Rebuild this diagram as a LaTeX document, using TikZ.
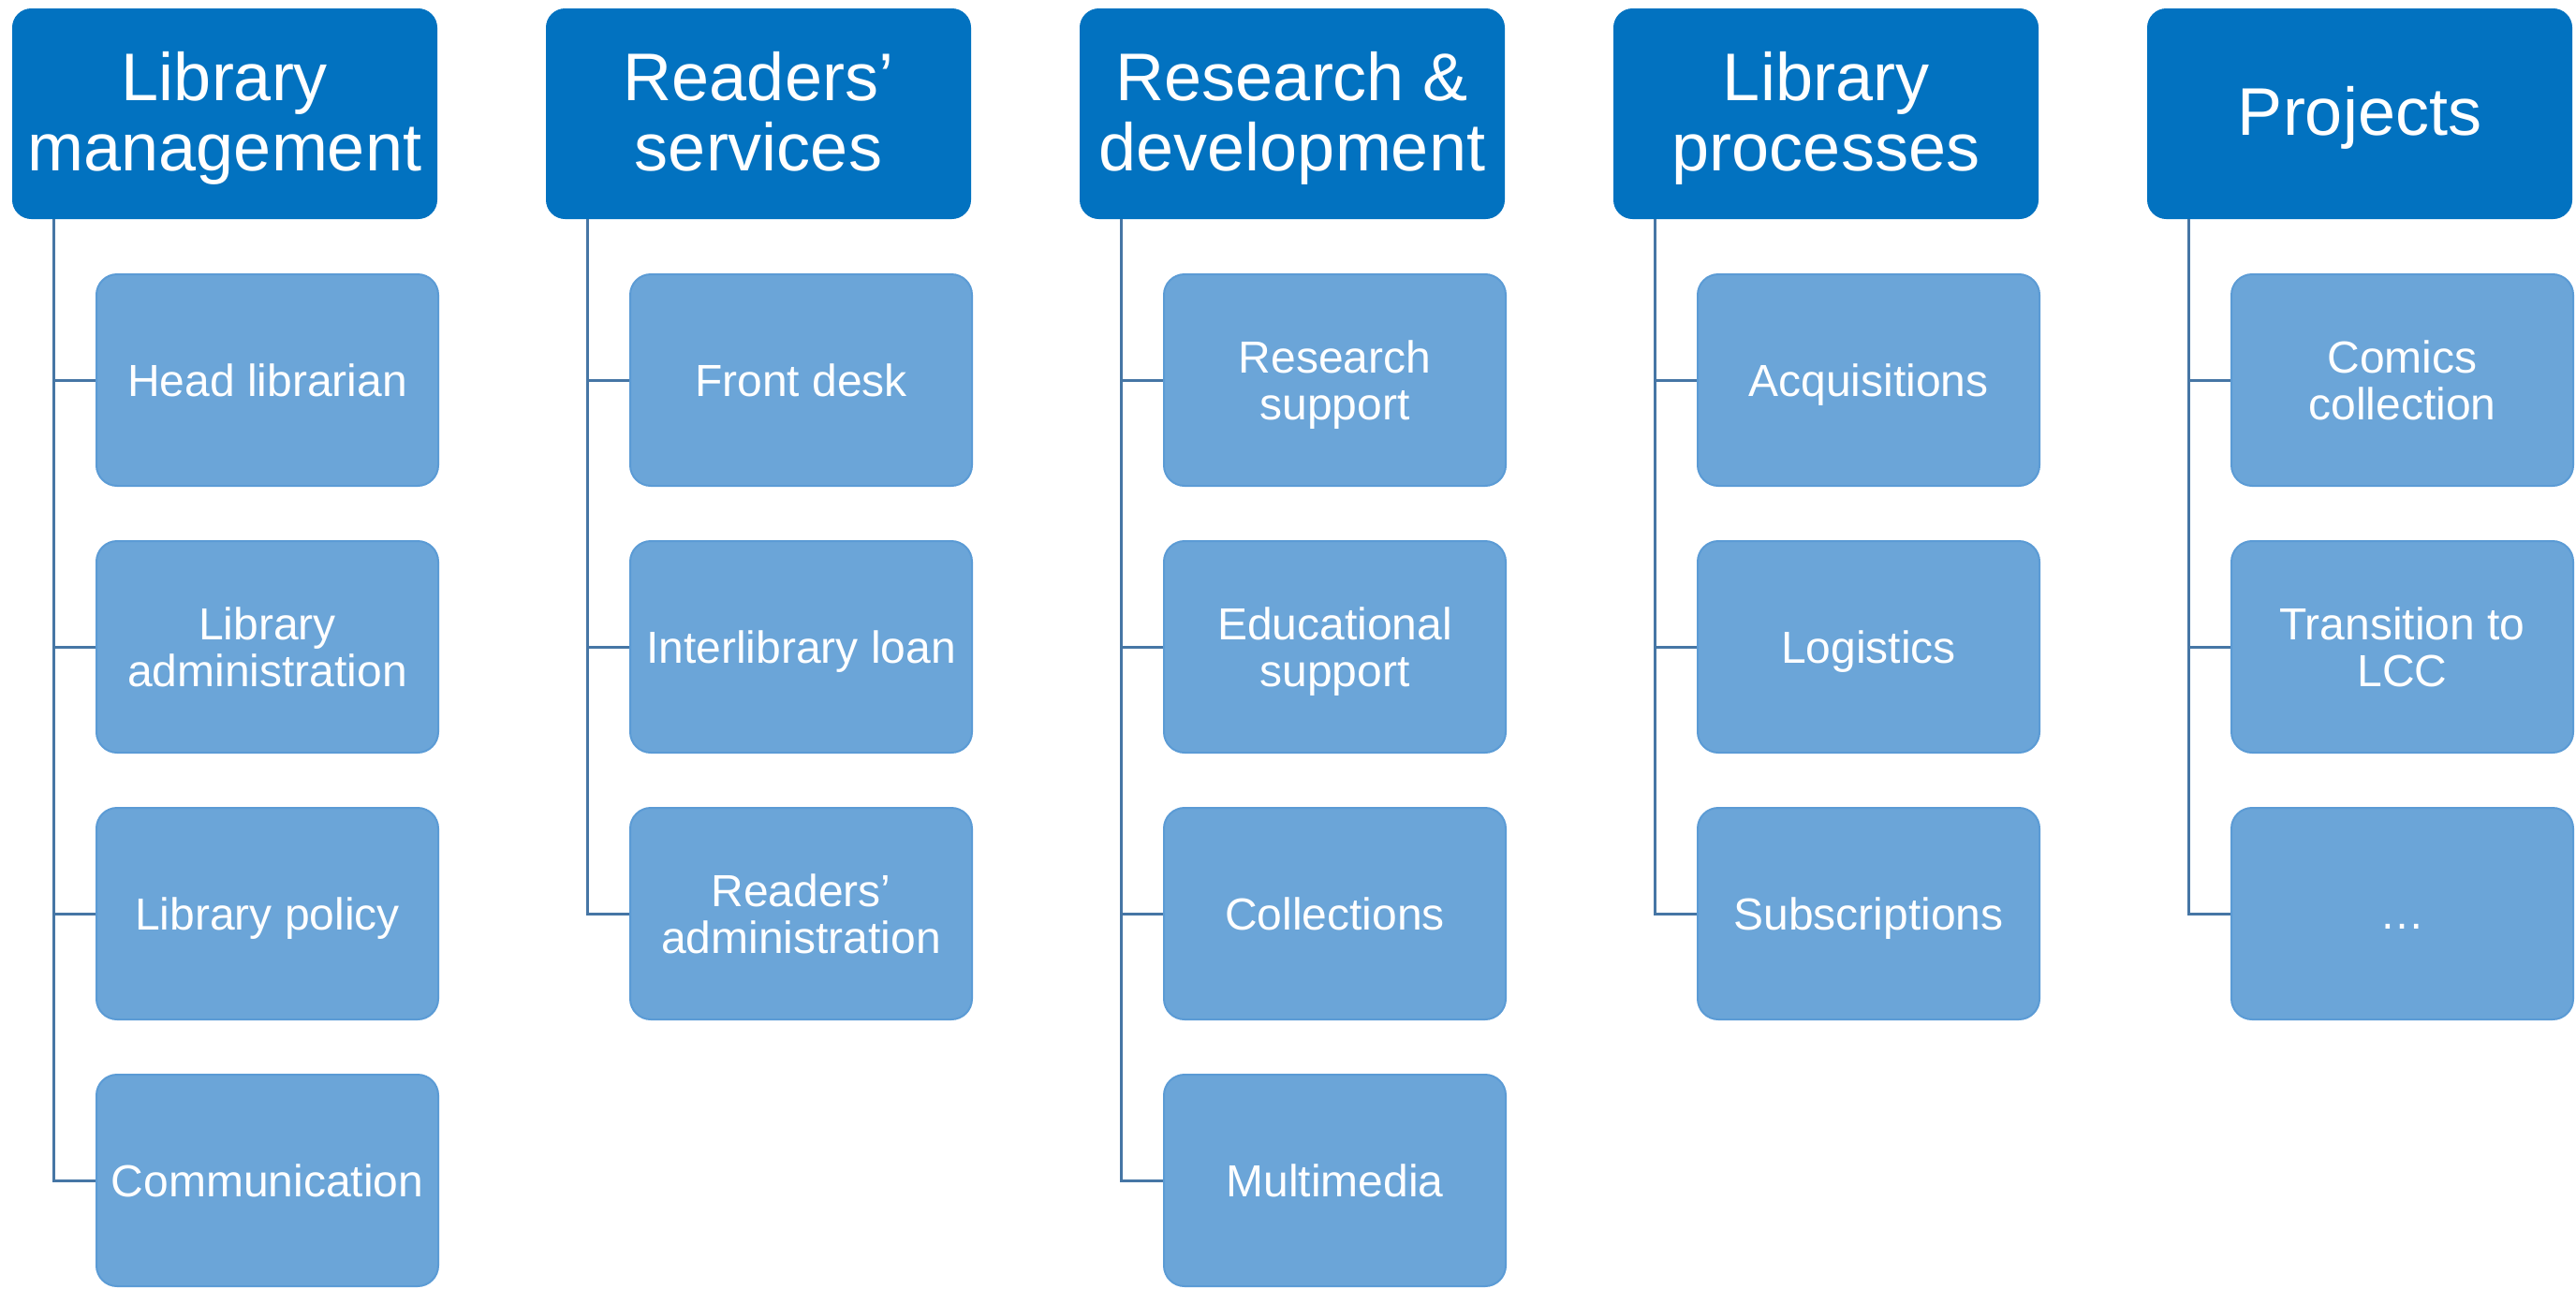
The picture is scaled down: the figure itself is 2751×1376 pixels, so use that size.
\documentclass[tikz,border=0pt]{standalone}
\usepackage{fontspec}
\setmainfont{Liberation Sans}
\definecolor{headblue}{RGB}{2,114,192}
\definecolor{childblue}{RGB}{107,165,216}
\definecolor{childedge}{RGB}{91,155,213}
\definecolor{connblue}{RGB}{70,118,165}
\tikzset{
  headbox/.style={draw=headblue, line width=1pt, fill=headblue, rounded corners=20pt,
    minimum width=453pt, minimum height=224pt, inner sep=0pt, align=center,
    text depth=6pt,
    text=white, font=\fontsize{72}{75}\selectfont},
  childbox/.style={draw=childedge, line width=2pt, fill=childblue, rounded corners=22pt,
    minimum width=365pt, minimum height=226pt, inner sep=0pt, align=center,
    text depth=0pt,
    text=white, font=\fontsize{48}{50}\selectfont},
  conn/.style={draw=connblue, line width=3pt}
}
\begin{document}
\begin{tikzpicture}[x=1pt,y=-1pt]
\useasboundingbox (0,0) rectangle (2751,1376);
% headers
\node[headbox] (h1) at (240,121.5) {Library\\management};
\node[headbox] (h2) at (810,121.5) {Readers’\\services};
\node[headbox] (h3) at (1380,121.5) {Research \&\\development};
\node[headbox] (h4) at (1950,121.5) {Library\\processes};
\node[headbox] (h5) at (2520,121.5) {Projects};
% trunk tops
\coordinate (t1) at (57,234);
\coordinate (t2) at (627,234);
\coordinate (t3) at (1197,234);
\coordinate (t4) at (1767,234);
\coordinate (t5) at (2337,234);
% column 1
\node[childbox] (c11) at (285.5,406) {Head librarian};
\node[childbox] (c12) at (285.5,691) {Library\\administration};
\node[childbox] (c13) at (285.5,976) {Library policy};
\node[childbox] (c14) at (285.5,1261) {Communication};
% column 2
\node[childbox] (c21) at (855.5,406) {Front desk};
\node[childbox] (c22) at (855.5,691) {Interlibrary loan};
\node[childbox] (c23) at (855.5,976) {Readers’\\administration};
% column 3
\node[childbox] (c31) at (1425.5,406) {Research\\support};
\node[childbox] (c32) at (1425.5,691) {Educational\\support};
\node[childbox] (c33) at (1425.5,976) {Collections};
\node[childbox] (c34) at (1425.5,1261) {Multimedia};
% column 4
\node[childbox] (c41) at (1995.5,406) {Acquisitions};
\node[childbox] (c42) at (1995.5,691) {Logistics};
\node[childbox] (c43) at (1995.5,976) {Subscriptions};
% column 5
\node[childbox] (c51) at (2565.5,406) {Comics\\collection};
\node[childbox] (c52) at (2565.5,691) {Transition to\\LCC};
\node[childbox] (c53) at (2565.5,976) {\vphantom{H}…};
% connectors
\draw[conn] (t1) |- (c14.west);
\draw[conn] (t1 |- c11.west) -- (c11.west);
\draw[conn] (t1 |- c12.west) -- (c12.west);
\draw[conn] (t1 |- c13.west) -- (c13.west);
\draw[conn] (t2) |- (c23.west);
\draw[conn] (t2 |- c21.west) -- (c21.west);
\draw[conn] (t2 |- c22.west) -- (c22.west);
\draw[conn] (t3) |- (c34.west);
\draw[conn] (t3 |- c31.west) -- (c31.west);
\draw[conn] (t3 |- c32.west) -- (c32.west);
\draw[conn] (t3 |- c33.west) -- (c33.west);
\draw[conn] (t4) |- (c43.west);
\draw[conn] (t4 |- c41.west) -- (c41.west);
\draw[conn] (t4 |- c42.west) -- (c42.west);
\draw[conn] (t5) |- (c53.west);
\draw[conn] (t5 |- c51.west) -- (c51.west);
\draw[conn] (t5 |- c52.west) -- (c52.west);
\end{tikzpicture}
\end{document}
